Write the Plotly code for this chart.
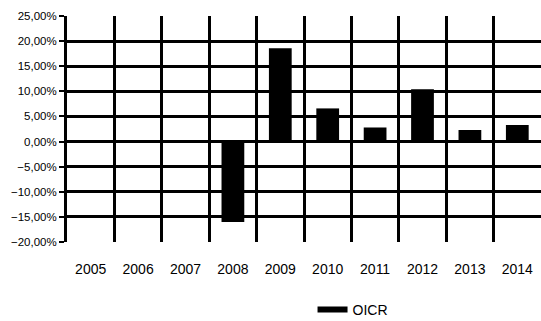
import plotly.graph_objects as go

years = ["2005", "2006", "2007", "2008", "2009", "2010", "2011", "2012", "2013", "2014"]
oicr = [None, None, None, -16.0, 18.6, 6.6, 2.8, 10.4, 2.3, 3.3]  # percent
series_name = "OICR"

fig = go.Figure()
fig.add_trace(go.Bar(
    x=years, y=[v / 100 if v is not None else None for v in oicr],
    marker=dict(color="black", line=dict(width=0)),
    width=0.48, showlegend=False,
))
# legend entry drawn as a short thick dash
fig.add_trace(go.Scatter(
    x=[None], y=[None], mode="lines", name=series_name,
    line=dict(color="black", width=6), showlegend=True,
))
# invisible linear axis carrying the vertical category separators
fig.add_trace(go.Scatter(x=[None], y=[None], xaxis="x2", showlegend=False))

fig.update_layout(
    width=541, height=321,
    margin=dict(l=67, r=0, t=16, b=79, autoexpand=False),
    paper_bgcolor="white", plot_bgcolor="white",
    separators=",.",
    font=dict(family="Liberation Sans, Arial, sans-serif", color="black"),
    xaxis=dict(
        type="category", range=[-0.5, 9.5], showgrid=False, zeroline=False,
        ticks="", tickfont=dict(size=14), ticklabelstandoff=17,
        showline=False, automargin=False,
    ),
    xaxis2=dict(
        overlaying="x", range=[-0.5, 9.5], tick0=-0.5, dtick=1,
        showgrid=True, gridcolor="black", gridwidth=2.5,
        showticklabels=False, zeroline=False, showline=False,
        automargin=False,
    ),
    yaxis=dict(
        range=[-0.20, 0.25], dtick=0.05, tickformat=".2%",
        showgrid=True, gridcolor="black", gridwidth=2.5,
        zeroline=False, showline=True, linecolor="black", linewidth=3,
        ticks="outside", ticklen=5, tickwidth=2, tickcolor="black",
        tickfont=dict(size=11.5), automargin=False,
    ),
    legend=dict(
        orientation="h", x=0.518, y=-0.23, xanchor="left", yanchor="top",
        font=dict(size=14), bgcolor="rgba(0,0,0,0)",
    ),
)

fig.write_html("out.html")
